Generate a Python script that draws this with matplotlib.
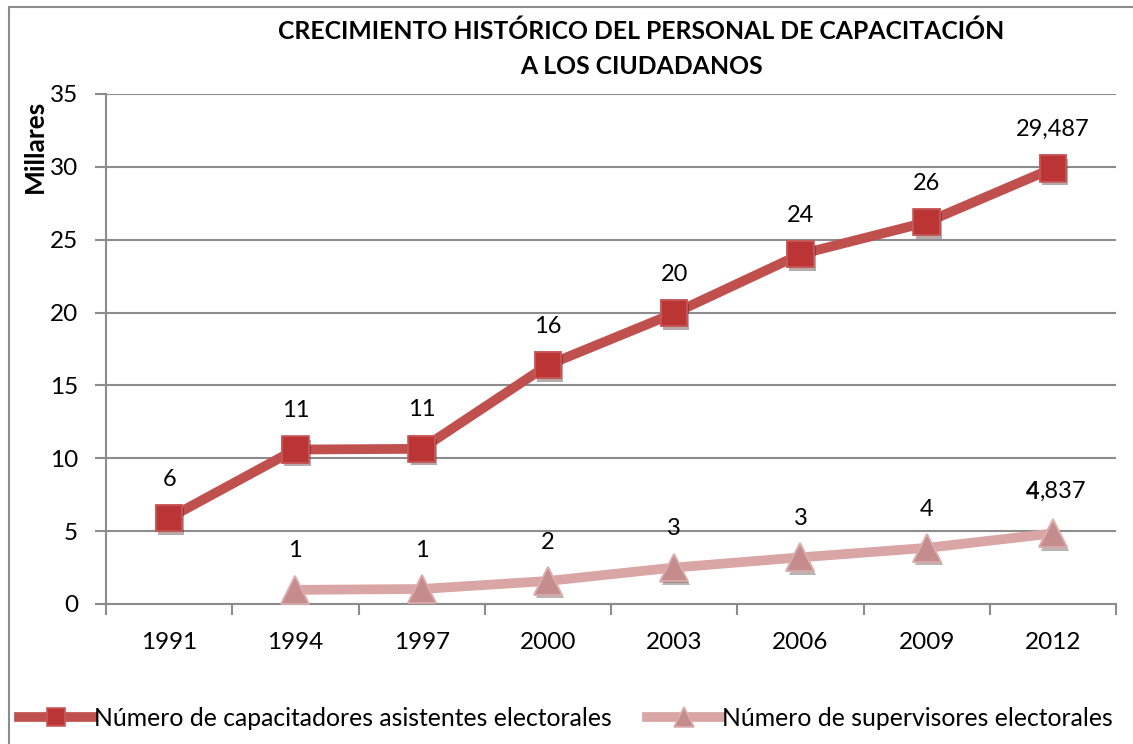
import matplotlib.pyplot as plt
import matplotlib.patheffects as pe
from matplotlib.patches import Rectangle

plt.rcParams['font.family'] = ['Lato', 'DejaVu Sans']

years = ['1991', '1994', '1997', '2000', '2003', '2006', '2009', '2012']
capacitadores = [5.9, 10.6, 10.65, 16.4, 19.95, 24.0, 26.2, 29.9]
cap_labels = ['6', '11', '11', '16', '20', '24', '26', '29,487']
supervisores = [0.97, 1.03, 1.58, 2.5, 3.2, 3.85, 4.84]
sup_labels = ['1', '1', '2', '3', '3', '4', None]

fig = plt.figure(figsize=(11.33, 7.44), dpi=100)
ax = fig.add_axes([106 / 1133, 1 - 604 / 744, 1010 / 1133, 510 / 744])

grid_c = '#8c8c8c'
shadow = [pe.SimplePatchShadow(offset=(1.5, -2.5), alpha=0.35), pe.Normal()]

x_cap = list(range(len(years)))
x_sup = list(range(1, len(years)))

cap_style = dict(marker='s', ms=19, mfc='#BC3535', mec='#C85A5A', mew=1.2)
sup_style = dict(marker='^', ms=20, mfc='#C48C8C', mec='#DDAEAE', mew=1.2)

# lines (used for legend)
ax.plot(x_cap, capacitadores, color='#C0504D', lw=7, **cap_style,
        label='Número de capacitadores asistentes electorales', zorder=4)
ax.plot(x_sup, supervisores, color='#D9A5A5', lw=7, **sup_style,
        label='Número de supervisores electorales', zorder=3)
# markers again on top, with a soft shadow
ax.plot(x_cap, capacitadores, ls='none', **cap_style, zorder=5, path_effects=shadow)
ax.plot(x_sup, supervisores, ls='none', **sup_style, zorder=3.5, path_effects=shadow)

for x, y, t in zip(x_cap, capacitadores, cap_labels):
    ax.annotate(t, (x, y), xytext=(0, 28), textcoords='offset points',
                ha='center', va='center', fontsize=17, color='black')
for x, y, t in zip(x_sup, supervisores, sup_labels):
    if t is None:
        continue
    ax.annotate(t, (x, y), xytext=(0, 28), textcoords='offset points',
                ha='center', va='center', fontsize=17, color='black')
# last supervisor label: bold "4" + ",837"
ax.annotate('4', (x_sup[-1], supervisores[-1]), xytext=(-9.5, 30),
            textcoords='offset points', ha='right', va='center',
            fontsize=17, fontweight='bold')
ax.annotate(',837', (x_sup[-1], supervisores[-1]), xytext=(-9.5, 30),
            textcoords='offset points', ha='left', va='center', fontsize=17)

ax.set_xlim(-0.5, len(years) - 0.5)
ax.set_ylim(0, 35)
ax.set_yticks(range(0, 36, 5))
ax.set_xticks([i - 0.5 for i in range(len(years) + 1)])
ax.set_xticklabels([])
ax.set_xticks(x_cap, minor=True)
ax.set_xticklabels(years, minor=True)
ax.tick_params(axis='x', which='major', length=8, width=1.5, color=grid_c)
ax.tick_params(axis='x', which='minor', length=0, pad=20, labelsize=17.5)
ax.tick_params(axis='y', length=8, width=1.5, color=grid_c, labelsize=17.5, pad=12)
ax.grid(axis='y', color=grid_c, lw=1.5)
ax.set_axisbelow(True)
for s in ['top', 'right']:
    ax.spines[s].set_visible(False)
for s in ['left', 'bottom']:
    ax.spines[s].set_color(grid_c)
    ax.spines[s].set_linewidth(1.5)
ax.spines['bottom'].set_zorder(2.5)

fig.text(641 / 1133, 1 - 31 / 744, 'CRECIMIENTO HISTÓRICO DEL PERSONAL DE CAPACITACIÓN',
         ha='center', va='center', fontsize=17.8, fontweight='bold')
fig.text(641 / 1133, 1 - 66 / 744, 'A LOS CIUDADANOS',
         ha='center', va='center', fontsize=17.8, fontweight='bold')
fig.text(35 / 1133, 1 - 146 / 744, 'Millares', rotation=90,
         ha='center', va='center', fontsize=19, fontweight='bold')

fig.legend(loc='center', bbox_to_anchor=(566 / 1133, 1 - 718 / 744), ncol=2,
           frameon=False, fontsize=17.8, handlelength=3.0, handletextpad=0.05,
           columnspacing=1.4, markerscale=0.7)

fig.patches.append(Rectangle((9 / 1133, -0.1), 1.2, 1 - 7 / 744 + 0.1,
                             transform=fig.transFigure, fill=False,
                             ec='#8c8c8c', lw=1.5))

fig.savefig('out.png', dpi=100)
